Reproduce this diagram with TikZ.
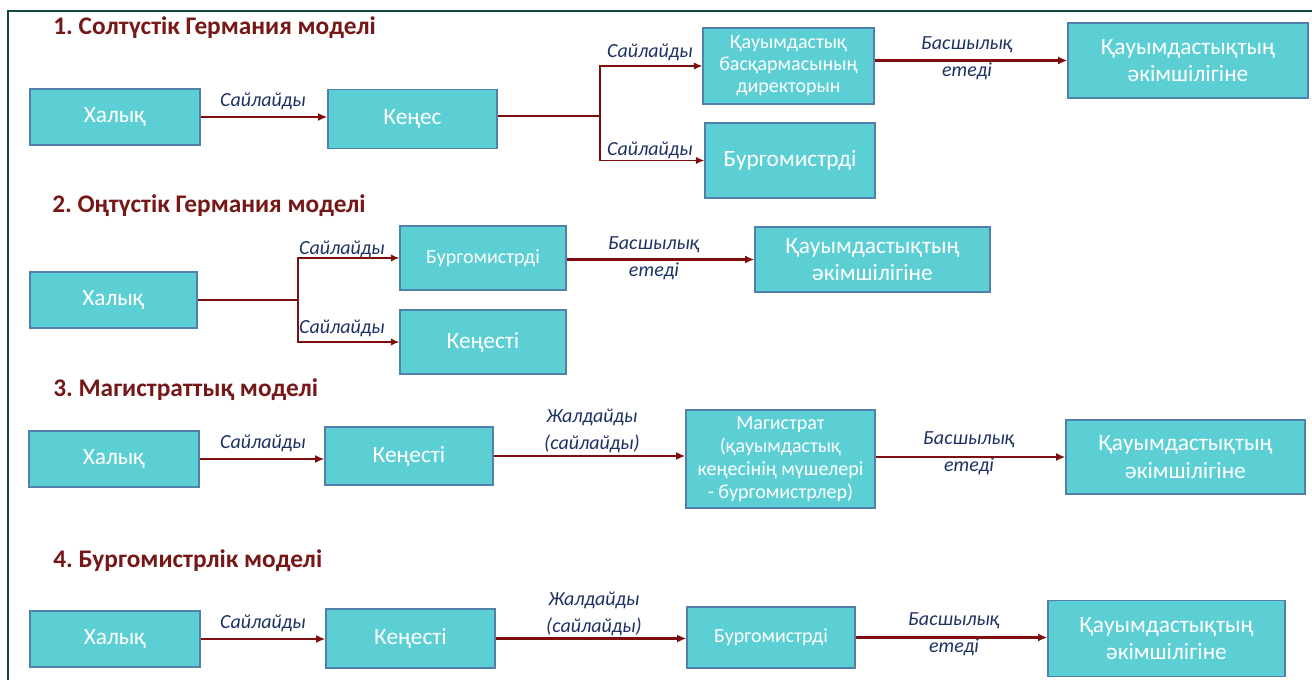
\documentclass[tikz,border=0pt]{standalone}
\usepackage{fontspec}
\setmainfont{Carlito}
\usetikzlibrary{arrows.meta}
\frenchspacing
\definecolor{boxfill}{RGB}{92,207,212}
\definecolor{boxborder}{RGB}{82,128,172}
\definecolor{arrowcol}{RGB}{127,14,14}
\definecolor{titlecol}{RGB}{118,24,24}
\definecolor{labelcol}{RGB}{31,50,100}
\definecolor{framecol}{RGB}{14,72,62}
\begin{document}
\begin{tikzpicture}[x=0.75pt,y=-0.75pt,
  box/.style={draw=boxborder, line width=0.8pt, fill=boxfill, text=white, align=center, inner sep=0pt, anchor=center},
  sz/.style 2 args={minimum width=0.75pt*#1, minimum height=0.75pt*#2},
  fbig/.style={font=\fontsize{17.5}{20.5}\selectfont},
  fmid/.style={font=\fontsize{15}{16.5}\selectfont},
  fmag/.style={font=\fontsize{15}{17.3}\selectfont},
  title/.style={text=titlecol, font=\fontsize{19}{22}\selectfont\bfseries, inner sep=0pt, anchor=base west},
  lab/.style={text=labelcol, font=\fontsize{15}{20}\selectfont\itshape, inner sep=0pt, align=center},
  arr/.style={draw=arrowcol, line width=1.9pt, -{Latex[length=7pt,width=6pt]}},
  brr/.style={draw=arrowcol, line width=1.1pt, -{Latex[length=6.5pt,width=5.5pt]}},
  ln/.style={draw=arrowcol, line width=1.1pt}
]
\useasboundingbox (0,0) rectangle (1312,680);
\fill[white] (0,0) rectangle (1312,680);
\draw[framecol, line width=2pt] (8,680) -- (8,11) -- (1312,11);

% Titles
\node[title] (t1) at (53,35) {1. Солтүстік Германия моделі};
\node[title] (t2) at (52,213) {2. Оңтүстік Германия моделі};
\node[title] (t3) at (53,397) {3. Магистраттық моделі};
\node[title] (t4) at (53,567) {4. Бургомистрлік моделі};

% Row 1
\node[box,sz={170}{56},fbig] (h1) at (115,117) {Халық};
\node[box,sz={169}{59},fbig] (k1) at (412.5,119) {Кеңес};
\node[box,sz={171}{76},fmid] (d1) at (788.5,66) {Қауымдастық\\басқармасының\\директорын};
\node[box,sz={170}{75},fbig] (b1) at (790,160.5) {Бургомистрді};
\node[box,sz={240}{75},fbig] (a1) at (1188,60.5) {Қауымдастықтың\\әкімшілігіне};
\coordinate (j1) at (600,116);
\draw[arr] (h1.east) -- (h1.east -| k1.west);
\draw[ln] (k1.east |- j1) -- (j1);
\draw[brr] (j1) |- (d1.west);
\draw[brr] (j1) |- (b1.west);
\draw[arr] (d1.east |- a1.west) -- (a1.west);
\node[lab] (l11) at (263,101) {Сайлайды};
\node[lab] (l12) at (650,52) {Сайлайды};
\node[lab] (l13) at (650,150) {Сайлайды};
\node[lab] (l14) at (967,58) {Басшылық\\етеді};

% Row 2
\node[box,sz={167}{56},fbig] (h2) at (113.5,300) {Халық};
\node[box,sz={166}{64},fmid] (b2) at (483,258) {Бургомистрді};
\node[box,sz={166}{64},fbig] (k2) at (483,342) {Кеңесті};
\node[box,sz={235}{65},fbig] (a2) at (872.5,259.5) {Қауымдастықтың\\әкімшілігіне};
\coordinate (j2) at (298,300);
\draw[ln] (h2.east) -- (j2);
\draw[brr] (j2) |- (b2.west);
\draw[brr] (j2) |- (k2.west);
\draw[arr] (b2.east |- a2.west) -- (a2.west);
\node[lab] (l21) at (342,249) {Сайлайды};
\node[lab] (l22) at (342,328) {Сайлайды};
\node[lab] (l23) at (654,258.5) {Басшылық\\етеді};

% Row 3
\node[box,sz={170}{56},fbig] (h3) at (114,459) {Халық};
\node[box,sz={168}{58},fbig] (k3) at (409,456) {Кеңесті};
\node[box,sz={189}{98},fmag] (m3) at (780.5,459) {Магистрат\\(қауымдастық\\кеңесінің мүшелері\\- бургомистрлер)};
\node[box,sz={239}{74},fbig] (a3) at (1185.5,457) {Қауымдастықтың\\әкімшілігіне};
\draw[arr] (h3.east) -- (h3.east -| k3.west);
\draw[arr] (k3.east) -- (k3.east -| m3.west);
\draw[arr] (m3.east |- a3.west) -- (a3.west);
\node[lab] (l31) at (263,443) {Сайлайды};
\node[lab] (l32) at (592,431) {Жалдайды\\(сайлайды)};
\node[lab] (l33) at (969,453.5) {Басшылық\\етеді};

% Row 4
\node[box,sz={170}{56},fbig] (h4) at (115,639) {Халық};
\node[box,sz={169}{59},fbig] (k4) at (410.5,638.5) {Кеңесті};
\node[box,sz={168}{61},fmid] (b4) at (771,637.5) {Бургомистрді};
\node[box,sz={237}{76},fbig] (a4) at (1166.5,638.5) {Қауымдастықтың\\әкімшілігіне};
\draw[arr] (h4.east) -- (h4.east -| k4.west);
\draw[arr] (k4.east) -- (k4.east -| b4.west);
\draw[arr] (b4.east) -- (b4.east -| a4.west);
\node[lab] (l41) at (263,623) {Сайлайды};
\node[lab] (l42) at (594,614) {Жалдайды\\(сайлайды)};
\node[lab] (l43) at (954,634) {Басшылық\\етеді};
\end{tikzpicture}
\end{document}
